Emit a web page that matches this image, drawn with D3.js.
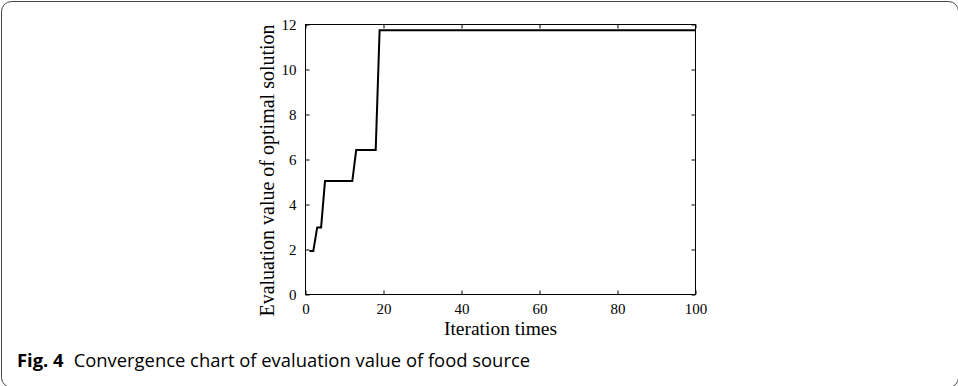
<!DOCTYPE html>
<html>
<head>
<meta charset="utf-8">
<script src="https://cdn.jsdelivr.net/npm/d3@7/dist/d3.min.js"></script>
<style>
  html, body { margin: 0; padding: 0; background: #fff; }
  svg { display: block; }
</style>
</head>
<body>
<svg id="chart" width="958" height="386"></svg>
<script>
// Best evaluation value found so far, at the iterations where it changes
const iterations = [1, 2, 3, 4, 5, 12, 13, 18, 19, 100];
const bestValues = [1.93, 1.93, 2.98, 2.98, 5.04, 5.04, 6.42, 6.42, 11.75, 11.75];

const xTicks = [0, 20, 40, 60, 80, 100];
const yTicks = [0, 2, 4, 6, 8, 10, 12];

const xTitle = "Iteration times";
const yTitle = "Evaluation value of optimal solution";
const captionLabel = "Fig. 4";
const captionText = "Convergence chart of evaluation value of food source";

const svg = d3.select("#chart");
const serif = "'Liberation Serif', 'Times New Roman', serif";

// figure frame with rounded corners
svg.append("rect")
  .attr("x", 1.5).attr("y", 1.5)
  .attr("width", 957).attr("height", 386)
  .attr("rx", 10).attr("ry", 10)
  .attr("fill", "none")
  .attr("stroke", "#444")
  .attr("stroke-width", 1);

const plot = { left: 305.5, right: 695.5, top: 24.5, bottom: 294.5 };

const x = d3.scaleLinear().domain([0, 100]).range([plot.left, plot.right]);
const y = d3.scaleLinear().domain([0, 12]).range([plot.bottom, plot.top]);

const tickLen = 4;

function styleAxis(g, showLabels) {
  g.select(".domain").remove();
  g.selectAll(".tick line").attr("stroke", "#000").attr("stroke-width", 1);
  g.selectAll(".tick text")
    .attr("font-family", serif)
    .attr("font-size", 15)
    .attr("fill", "#000");
  if (!showLabels) g.selectAll(".tick text").remove();
}

// bottom axis (ticks point inward)
svg.append("g")
  .attr("transform", `translate(0,${plot.bottom})`)
  .call(d3.axisBottom(x).tickValues(xTicks).tickSize(-tickLen).tickPadding(9))
  .call(g => styleAxis(g, true));

// top axis
svg.append("g")
  .attr("transform", `translate(0,${plot.top})`)
  .call(d3.axisTop(x).tickValues(xTicks).tickSize(-tickLen))
  .call(g => styleAxis(g, false));

// left axis
svg.append("g")
  .attr("transform", `translate(${plot.left},0)`)
  .call(d3.axisLeft(y).tickValues(yTicks).tickSize(-tickLen).tickPadding(9))
  .call(g => styleAxis(g, true));

// right axis
svg.append("g")
  .attr("transform", `translate(${plot.right},0)`)
  .call(d3.axisRight(y).tickValues(yTicks).tickSize(-tickLen))
  .call(g => styleAxis(g, false));

// plot box
svg.append("rect")
  .attr("x", plot.left).attr("y", plot.top)
  .attr("width", plot.right - plot.left)
  .attr("height", plot.bottom - plot.top)
  .attr("fill", "none")
  .attr("stroke", "#000")
  .attr("stroke-width", 1);

// convergence curve
const line = d3.line()
  .x((d, i) => x(iterations[i]))
  .y(d => y(d));

svg.append("path")
  .datum(bestValues)
  .attr("d", line)
  .attr("fill", "none")
  .attr("stroke", "#000")
  .attr("stroke-width", 2)
  .attr("stroke-linejoin", "miter");

// axis titles
svg.append("text")
  .attr("x", (plot.left + plot.right) / 2)
  .attr("y", 335)
  .attr("text-anchor", "middle")
  .attr("font-family", serif)
  .attr("font-size", 19.5)
  .attr("fill", "#000")
  .text(xTitle);

svg.append("text")
  .attr("transform", `translate(274,${(plot.top + plot.bottom) / 2 + 11}) rotate(-90)`)
  .attr("text-anchor", "middle")
  .attr("font-family", serif)
  .attr("font-size", 20)
  .attr("fill", "#000")
  .text(yTitle);

// caption
const cap = svg.append("text")
  .attr("x", 17)
  .attr("y", 367)
  .attr("font-family", "'Open Sans', 'Noto Sans', sans-serif")
  .attr("font-size", 18.4)
  .attr("fill", "#000");
cap.append("tspan").attr("font-weight", "bold").text(captionLabel);
cap.append("tspan").attr("dx", 10).text(captionText);
</script>
</body>
</html>
